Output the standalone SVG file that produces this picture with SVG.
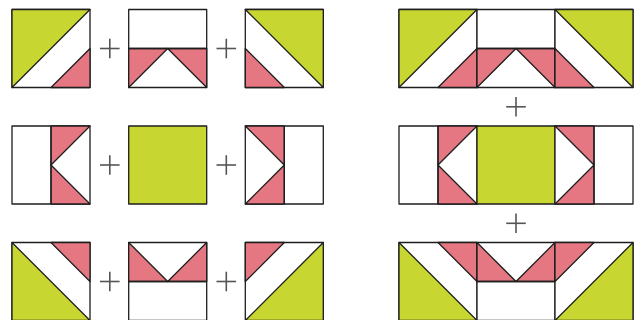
<svg xmlns="http://www.w3.org/2000/svg" xmlns:xlink="http://www.w3.org/1999/xlink" width="636" height="320" viewBox="0 0 636 320">
<style>
.w{fill:#ffffff}
.g{fill:#c8d631}
.p{fill:#e57782}
.s{stroke:#1e1e1e;stroke-width:1.3;stroke-linejoin:round}
.plus{stroke:#555;stroke-width:1.6;fill:none}
</style>
<defs>
<g id="bA" class="s"><rect class="w" width="78" height="78"/><polygon class="g" points="0,0 78,0 0,78"/><polygon class="p" points="78,39 78,78 39,78"/></g>
<g id="bB" class="s"><rect class="w" width="78" height="78"/><polygon class="p" points="0,39 39,39 0,78"/><polygon class="p" points="39,39 78,39 78,78"/><line x1="0" y1="39" x2="78" y2="39"/></g>
<g id="bC" class="s"><rect class="w" width="78" height="78"/><polygon class="g" points="0,0 78,0 78,78"/><polygon class="p" points="0,39 0,78 39,78"/></g>
<g id="bD" class="s"><rect class="w" width="78" height="78"/><polygon class="p" points="39,0 78,0 39,39"/><polygon class="p" points="39,39 39,78 78,78"/><line x1="39" y1="0" x2="39" y2="78"/></g>
<g id="bE" class="s"><rect class="g" width="78" height="78"/></g>
<g id="bF" class="s"><rect class="w" width="78" height="78"/><polygon class="p" points="0,0 39,0 39,39"/><polygon class="p" points="39,39 39,78 0,78"/><line x1="39" y1="0" x2="39" y2="78"/></g>
<g id="bG" class="s"><rect class="w" width="78" height="78"/><polygon class="g" points="0,0 0,78 78,78"/><polygon class="p" points="39,0 78,0 78,39"/></g>
<g id="bH" class="s"><rect class="w" width="78" height="78"/><polygon class="p" points="0,0 39,39 0,39"/><polygon class="p" points="78,0 78,39 39,39"/><line x1="0" y1="39" x2="78" y2="39"/></g>
<g id="bI" class="s"><rect class="w" width="78" height="78"/><polygon class="g" points="78,0 78,78 0,78"/><polygon class="p" points="0,0 39,0 0,39"/></g>
<g id="plusSign" class="plus"><line x1="-9.8" y1="0" x2="9.8" y2="0"/><line x1="0" y1="-9.8" x2="0" y2="9.8"/></g>
</defs>

<g id="row1-left-block"><use xlink:href="#bA" href="#bA" x="12" y="9.5"/></g>
<g id="row1-middle-block"><use xlink:href="#bB" href="#bB" x="128.7" y="9.5"/></g>
<g id="row1-right-block"><use xlink:href="#bC" href="#bC" x="245.3" y="9.5"/></g>
<g id="row2-left-block"><use xlink:href="#bD" href="#bD" x="12" y="126"/></g>
<g id="row2-middle-block"><use xlink:href="#bE" href="#bE" x="128.7" y="126"/></g>
<g id="row2-right-block"><use xlink:href="#bF" href="#bF" x="245.3" y="126"/></g>
<g id="row3-left-block"><use xlink:href="#bG" href="#bG" x="12" y="242.5"/></g>
<g id="row3-middle-block"><use xlink:href="#bH" href="#bH" x="128.7" y="242.5"/></g>
<g id="row3-right-block"><use xlink:href="#bI" href="#bI" x="245.3" y="242.5"/></g>

<g id="row1-assembled"><use xlink:href="#bA" href="#bA" x="399" y="9.5"/><use xlink:href="#bB" href="#bB" x="477" y="9.5"/><use xlink:href="#bC" href="#bC" x="555" y="9.5"/></g>
<g id="row2-assembled"><use xlink:href="#bD" href="#bD" x="399" y="126"/><use xlink:href="#bE" href="#bE" x="477" y="126"/><use xlink:href="#bF" href="#bF" x="555" y="126"/></g>
<g id="row3-assembled"><use xlink:href="#bG" href="#bG" x="399" y="242.5"/><use xlink:href="#bH" href="#bH" x="477" y="242.5"/><use xlink:href="#bI" href="#bI" x="555" y="242.5"/></g>

<g id="connectors">
<use xlink:href="#plusSign" href="#plusSign" x="109.8" y="48.5"/>
<use xlink:href="#plusSign" href="#plusSign" x="226.3" y="48.5"/>
<use xlink:href="#plusSign" href="#plusSign" x="109.8" y="165"/>
<use xlink:href="#plusSign" href="#plusSign" x="226.3" y="165"/>
<use xlink:href="#plusSign" href="#plusSign" x="109.8" y="281.5"/>
<use xlink:href="#plusSign" href="#plusSign" x="226.3" y="281.5"/>
<use xlink:href="#plusSign" href="#plusSign" x="516" y="106.8"/>
<use xlink:href="#plusSign" href="#plusSign" x="516" y="223.3"/>
</g>
</svg>
